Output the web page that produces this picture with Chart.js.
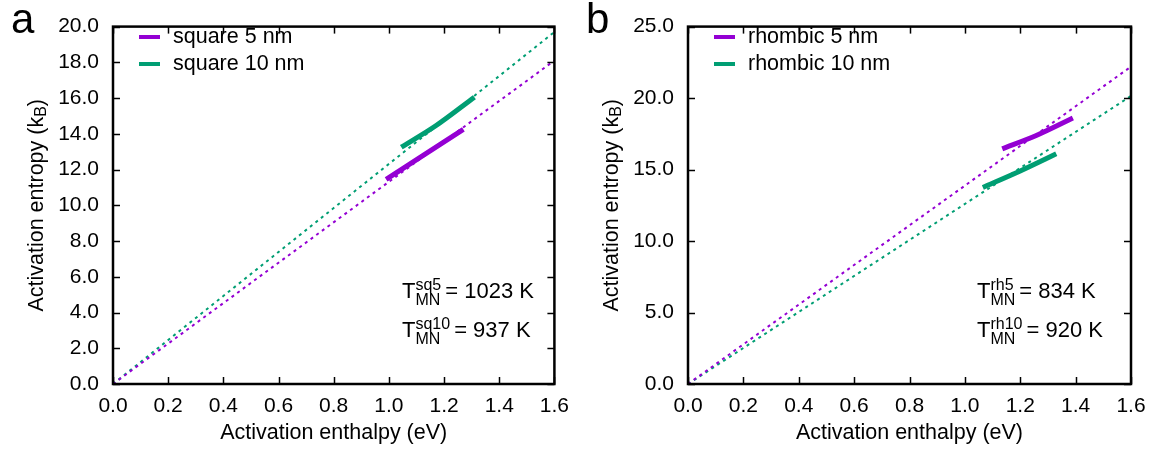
<!DOCTYPE html>
<html>
<head>
<meta charset="utf-8">
<script src="https://cdn.jsdelivr.net/npm/chart.js@4.4.1/dist/chart.umd.min.js"></script>
<style>
    html, body { margin: 0; padding: 0; background: #fff; }
    #wrap { display: flex; width: 1158px; height: 449px; }
    .panel { position: relative; width: 579px; height: 449px; }
</style>
</head>
<body>
<div id="wrap">
    <div class="panel"><canvas id="chartA"></canvas></div>
    <div class="panel"><canvas id="chartB"></canvas></div>
</div>
<script>
// =============================================
// Meyer-Neldel plots: activation entropy vs enthalpy
// =============================================

const FONT = "'Liberation Sans', Arial, Helvetica, sans-serif";
const PURPLE = '#9400d3';
const GREEN = '#009e73';

// x range shared by both panels
const xTicksMax = 1.6;
const fitH = [0, 1.6];

// panel a: square
const sq5Fit = [0, 18.1];
const sq10Fit = [0, 19.7];
const sq5H = [0.99, 1.13, 1.27];
const sq5S = [11.45, 12.85, 14.25];
const sq10H = [1.045, 1.17, 1.31];
const sq10S = [13.25, 14.45, 16.05];

// panel b: rhombic
const rh5Fit = [0, 22.2];
const rh10Fit = [0, 20.15];
const rh5H = [1.135, 1.26, 1.39];
const rh5S = [16.45, 17.4, 18.6];
const rh10H = [1.065, 1.2, 1.33];
const rh10S = [13.75, 14.9, 16.1];

const toPts = (xs, ys) => xs.map((v, i) => ({ x: v, y: ys[i] }));

const framePlugin = {
    id: 'frame',
    afterDraw(chart, args, o) {
        const { ctx, chartArea: a, scales: { x, y } } = chart;
        ctx.save();
        ctx.strokeStyle = '#000';
        ctx.lineWidth = 1.5;
        const seg = (x1, y1, x2, y2) => { ctx.beginPath(); ctx.moveTo(x1, y1); ctx.lineTo(x2, y2); ctx.stroke(); };
        x.ticks.forEach(t => {
            const px = Math.round(x.getPixelForValue(t.value)) + 0.5;
            seg(px, a.bottom, px, a.bottom - 7);
            seg(px, a.top, px, a.top + 7);
        });
        y.ticks.forEach(t => {
            const py = Math.round(y.getPixelForValue(t.value)) + 0.5;
            seg(a.left, py, a.left + 7, py);
            seg(a.right, py, a.right - 7, py);
        });
        ctx.lineWidth = 2.5;
        ctx.strokeRect(a.left, a.top, a.right - a.left, a.bottom - a.top);

        ctx.fillStyle = '#000';
        // panel letter
        ctx.font = `42px ${FONT}`;
        ctx.textBaseline = 'alphabetic';
        ctx.textAlign = 'left';
        ctx.fillText(o.letter, o.letterX, 33);

        // x title
        ctx.font = `21.5px ${FONT}`;
        ctx.textAlign = 'center';
        ctx.textBaseline = 'middle';
        ctx.fillText('Activation enthalpy (eV)', (a.left + a.right) / 2, 433);

        // y title with subscript
        ctx.save();
        ctx.translate(o.yTitleX, (a.top + a.bottom) / 2);
        ctx.rotate(-Math.PI / 2);
        ctx.textAlign = 'left';
        ctx.textBaseline = 'middle';
        const main = 'Activation entropy (k';
        ctx.font = `21.5px ${FONT}`;
        const w1 = ctx.measureText(main).width;
        const w3 = ctx.measureText(')').width;
        ctx.font = `16px ${FONT}`;
        const w2 = ctx.measureText('B').width;
        let sx = -(w1 + w2 + w3) / 2;
        ctx.font = `21.5px ${FONT}`;
        ctx.fillText(main, sx, 0);
        ctx.font = `16px ${FONT}`;
        ctx.fillText('B', sx + w1, 5);
        ctx.font = `21.5px ${FONT}`;
        ctx.fillText(')', sx + w1 + w2, 0);
        ctx.restore();

        // legend
        ctx.textAlign = 'left';
        ctx.textBaseline = 'middle';
        ctx.font = `21.5px ${FONT}`;
        o.legend.forEach((it, i) => {
            const ly = 37 + i * 27;
            ctx.strokeStyle = it.color;
            ctx.lineWidth = 4;
            seg(o.legendX, ly, o.legendX + 21, ly);
            ctx.fillText(it.label, o.legendX + 34, ly);
        });

        // Meyer-Neldel temperatures
        ctx.textBaseline = 'alphabetic';
        o.notes.forEach((n, i) => {
            const by = 298 + i * 39;
            ctx.font = `22px ${FONT}`;
            ctx.fillText('T', o.noteX, by);
            const tw = ctx.measureText('T').width;
            ctx.font = `16px ${FONT}`;
            const x0 = o.noteX + tw;
            ctx.fillText(n.sup, x0, by - 8);
            ctx.fillText('MN', x0, by + 7);
            const ww = Math.max(ctx.measureText(n.sup).width, ctx.measureText('MN').width);
            ctx.font = `22px ${FONT}`;
            ctx.fillText('= ' + n.value, x0 + ww + 4, by);
        });
        ctx.restore();
    }
};

function makePanel(id, p) {
    const ctx = document.getElementById(id);
    return new Chart(ctx, {
        type: 'line',
        data: {
            datasets: [
                { data: toPts(p.h5, p.s5), borderColor: PURPLE, borderWidth: 5, pointRadius: 0, tension: 0.3, borderCapStyle: 'butt' },
                { data: toPts(p.h10, p.s10), borderColor: GREEN, borderWidth: 5, pointRadius: 0, tension: 0.3, borderCapStyle: 'butt' },
                { data: toPts(fitH, p.fit5), borderColor: PURPLE, borderWidth: 2, borderDash: [3, 4], pointRadius: 0 },
                { data: toPts(fitH, p.fit10), borderColor: GREEN, borderWidth: 2, borderDash: [3, 4], pointRadius: 0 },
            ]
        },
        options: {
            responsive: false,
            animation: false,
            events: [],
            layout: { padding: { left: 0, right: p.padRight, top: 15, bottom: 0 } },
            plugins: {
                legend: { display: false },
                tooltip: { enabled: false },
                frame: p.frame
            },
            scales: {
                x: {
                    type: 'linear', min: 0, max: xTicksMax,
                    grid: { display: false, drawTicks: false },
                    border: { display: false },
                    ticks: { stepSize: 0.2, padding: 10, color: '#000', font: { family: FONT, size: 21 }, callback: v => v.toFixed(1), maxRotation: 0 },
                    afterFit: s => { s.height = 65; }
                },
                y: {
                    type: 'linear', min: 0, max: p.yMax,
                    grid: { display: false, drawTicks: false },
                    border: { display: false },
                    ticks: { stepSize: p.yStep, padding: 14, color: '#000', font: { family: FONT, size: 21 }, callback: v => v.toFixed(1) },
                    afterFit: s => { s.width = p.axisW; }
                }
            }
        },
        plugins: [framePlugin]
    });
}

document.getElementById('chartA').width = 579;
document.getElementById('chartA').height = 449;
document.getElementById('chartB').width = 579;
document.getElementById('chartB').height = 449;

makePanel('chartA', {
    h5: sq5H, s5: sq5S, h10: sq10H, s10: sq10S, fit5: sq5Fit, fit10: sq10Fit,
    yMax: 20, yStep: 2, axisW: 113, padRight: 22,
    frame: {
        letter: 'a', letterX: 11, yTitleX: 37, legendX: 139,
        legend: [{ label: 'square 5 nm', color: PURPLE }, { label: 'square 10 nm', color: GREEN }],
        noteX: 402,
        notes: [{ sup: 'sq5', value: '1023 K' }, { sup: 'sq10', value: '937 K' }]
    }
});

makePanel('chartB', {
    h5: rh5H, s5: rh5S, h10: rh10H, s10: rh10S, fit5: rh5Fit, fit10: rh10Fit,
    yMax: 25, yStep: 5, axisW: 109, padRight: 27,
    frame: {
        letter: 'b', letterX: 7, yTitleX: 33, legendX: 135,
        legend: [{ label: 'rhombic 5 nm', color: PURPLE }, { label: 'rhombic 10 nm', color: GREEN }],
        noteX: 398,
        notes: [{ sup: 'rh5', value: '834 K' }, { sup: 'rh10', value: '920 K' }]
    }
});
</script>
</body>
</html>
